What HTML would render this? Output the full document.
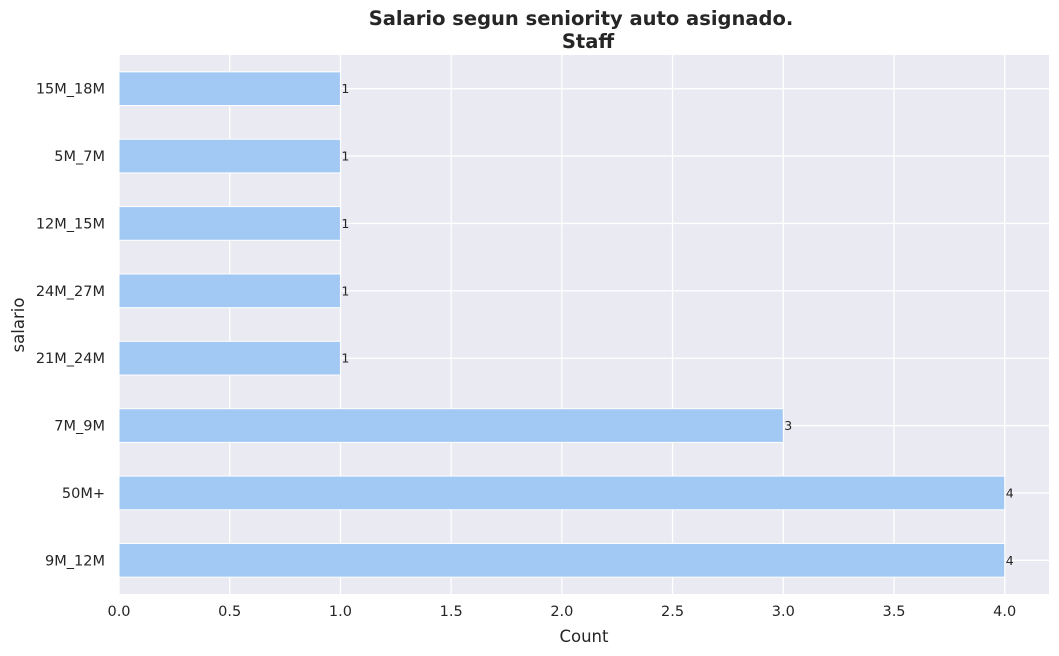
<!DOCTYPE html>
<html><head><meta charset="utf-8"><style>
body{margin:0;background:#fff;}
svg{display:block;font-family:"DejaVu Sans","Liberation Sans",sans-serif;}
</style></head><body>
<svg id="chart" width="1059" height="656">
<rect x="0" y="0" width="1059" height="656" fill="#fff"/>
<rect x="119" y="55" width="930" height="539" fill="#eaeaf2"/>
<g id="grid"></g><g id="bars"></g><g id="xt"></g><g id="yt"></g>
<text x="581" y="25" text-anchor="middle" font-size="19.5" font-weight="bold" fill="#262626">Salario segun seniority auto asignado.</text>
<text x="588" y="48" text-anchor="middle" font-size="19.5" font-weight="bold" fill="#262626">Staff</text>
<text x="584" y="642" text-anchor="middle" font-size="16.5" fill="#262626">Count</text>
<text x="24" y="325" text-anchor="middle" font-size="16.5" fill="#262626" transform="rotate(-90 24 325)">salario</text>
</svg>
<script>
const categories=["15M_18M","5M_7M","12M_15M","24M_27M","21M_24M","7M_9M","50M+","9M_12M"];
const counts=[1,1,1,1,1,3,4,4];
const xTicks=[0,0.5,1,1.5,2,2.5,3,3.5,4];
const NS="http://www.w3.org/2000/svg";
const x0=119,x1=1049,y0=55,y1=594,xmax=4.2;
const xs=v=>x0+v/xmax*(x1-x0);
const step=(y1-y0)/categories.length;
const yc=i=>y0+step*(i+0.5);
function mk(t,a,p){const e=document.createElementNS(NS,t);for(const k in a)e.setAttribute(k,a[k]);p.appendChild(e);return e;}
const G=document.getElementById('grid'),B=document.getElementById('bars'),XT=document.getElementById('xt'),YT=document.getElementById('yt');
xTicks.forEach(v=>{
 const l=mk('line',{x1:xs(v),x2:xs(v),y1:y0,y2:y1,stroke:'#fff','stroke-width':1.3},G);
 
 
 const t=mk('text',{x:xs(v),y:y1+22,'text-anchor':'middle','font-size':14.5,fill:'#262626'},XT);
 t.textContent=v.toFixed(1);
 
 
});
categories.forEach((c,i)=>{
 const l=mk('line',{x1:x0,x2:x1,y1:yc(i),y2:yc(i),stroke:'#fff','stroke-width':1.3},G);
 
 
 const r=mk('rect',{x:x0,y:yc(i)-step/4,width:xs(counts[i])-x0,height:step/2,fill:'#a1c9f4',stroke:'#fff','stroke-width':1},B);
 
 
 const v=mk('text',{x:xs(counts[i])+1,y:yc(i)+4.5,'font-size':12.5,fill:'#262626'},B);
 v.textContent=counts[i];
 
 
 const t=mk('text',{x:x0-14,y:yc(i)+5,'text-anchor':'end','font-size':14.5,fill:'#262626'},YT);
 t.textContent=c;
 
 
});
</script>
</body></html>
